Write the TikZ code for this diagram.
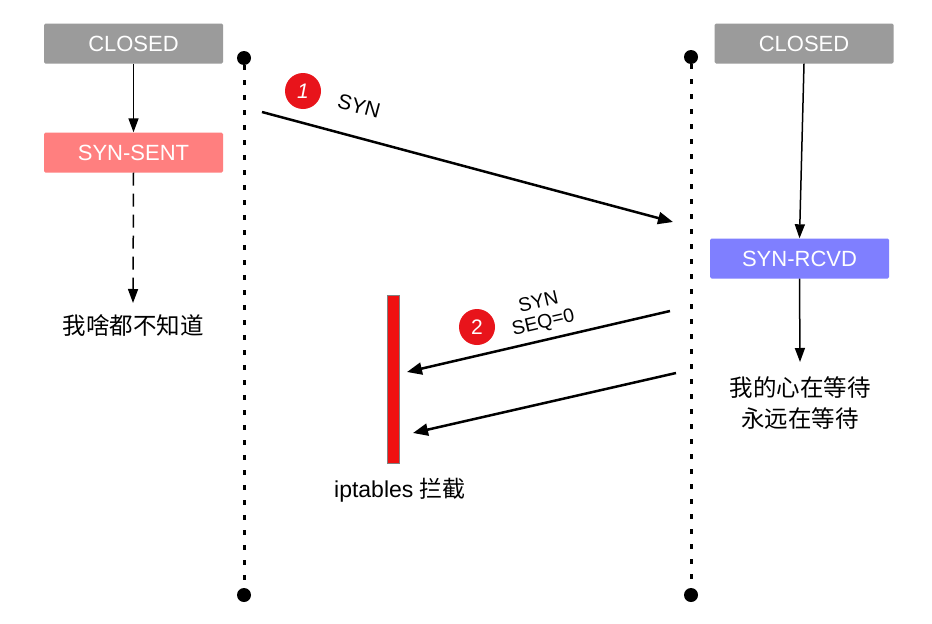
\documentclass[tikz,border=0pt]{standalone}
\usepackage{fontspec}
\setmainfont{Liberation Sans}
\newfontfamily\cjk{Noto Sans CJK SC}
\usetikzlibrary{arrows.meta}
\definecolor{boxgray}{HTML}{9B9B9B}
\definecolor{sentred}{HTML}{FF7F7F}
\definecolor{rcvdblue}{HTML}{7F7FFF}
\definecolor{badgered}{HTML}{E8141B}
\definecolor{barred}{HTML}{F01010}
\tikzset{
  statebox/.style={inner sep=0pt, minimum width=179pt, minimum height=40pt,
    text=white, font=\fontsize{22}{26}\selectfont, rounded corners=1.5pt},
  lifeline/.style={line width=3pt, dash pattern=on 5pt off 10pt},
  enddot/.style={circle, fill=black, inner sep=0pt, minimum size=14pt},
  varrow/.style={line width=1.5pt, -{Triangle[length=14pt,width=10pt]}},
  msg/.style={line width=2.5pt, -{Triangle[length=15pt,width=12pt]}},
  badge/.style={circle, fill=badgered, inner sep=0pt, minimum size=36pt,
    text=white, font=\fontsize{21}{24}\selectfont},
  cjktext/.style={font=\cjk\fontsize{23.5}{31}\selectfont, align=center},
}
\begin{document}
\begin{tikzpicture}[x=1pt,y=-1pt]
\useasboundingbox[fill=white] (0,0) rectangle (932,624);

% lifelines
\node[enddot] (lt) at (244,58) {};
\node[enddot] (lb) at (244,595) {};
\node[enddot] (rt) at (691,57) {};
\node[enddot] (rb) at (691,595) {};
\draw[lifeline] (lt) -- (lb);
\draw[lifeline] (rt) -- (rb);

% left side
\node[statebox, fill=boxgray] (c1) at (133.5,43.5) {CLOSED};
\node[statebox, fill=sentred] (ss) at (133.5,152.5) {SYN-SENT};
\node[cjktext] (know) at (133,326) {我啥都不知道};
\coordinate (kt) at (133,303);
\draw[varrow] (c1.south) -- (ss.north);
\draw[line width=1.5pt, dash pattern=on 13pt off 8pt, -{Triangle[length=14pt,width=10pt]}] (ss.south) -- (kt);

% right side
\node[statebox, fill=boxgray] (c2) at (804,43.5) {CLOSED};
\node[statebox, fill=rcvdblue] (sr) at (799.5,258.5) {SYN-RCVD};
\node[cjktext] (wait) at (800,403) {我的心在等待\\永远在等待};
\coordinate (wt) at (800,362);
\draw[varrow] (c2.south) -- (sr.north);
\draw[varrow] (sr.south) -- (wt);

% red bar
\node[draw=gray, fill=barred, line width=0.8pt, inner sep=0pt, minimum width=12pt, minimum height=168pt] (bar) at (393.5,379) {};
\node[font=\fontsize{23}{26}\selectfont] (ipt) at (400,490) {iptables {\cjk 拦截}};

% messages
\coordinate (m1s) at (262,112);
\coordinate (m1e) at (673,222);
\draw[msg] (m1s) -- (m1e);
\node[badge] (b1) at (303,91) {\itshape 1};
\node[rotate=-15, font=\fontsize{21}{24}\selectfont] (l1) at (359,106) {SYN};

\coordinate (m2s) at (670,311);
\coordinate (m2e) at (407,372);
\draw[msg] (m2s) -- (m2e);
\node[badge] (b2) at (477,327) {2};
\node[rotate=13, font=\fontsize{19.5}{21}\selectfont, align=center] (l2) at (541,313) {SYN\\SEQ=0};

\coordinate (m3s) at (676,373);
\coordinate (m3e) at (413,433);
\draw[msg] (m3s) -- (m3e);
\end{tikzpicture}
\end{document}
